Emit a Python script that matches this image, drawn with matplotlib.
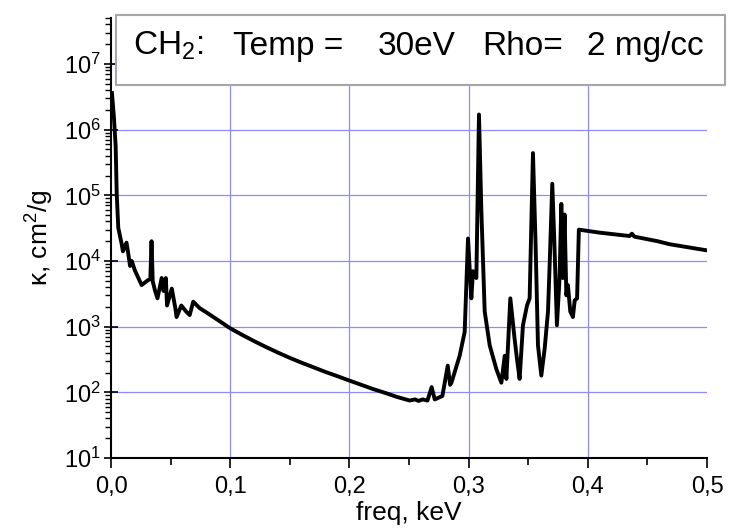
import matplotlib
matplotlib.use("Agg")
import matplotlib.pyplot as plt
from matplotlib.patches import Rectangle
import numpy as np

plt.rcParams['font.family'] = ['Liberation Sans', 'DejaVu Sans']
plt.rcParams['mathtext.fontset'] = 'custom'
plt.rcParams['mathtext.rm'] = 'Liberation Sans'
plt.rcParams['mathtext.it'] = 'Liberation Sans:italic'

# data (freq in keV, opacity in cm^2/g)
freq = [0.0008, 0.0025, 0.0039, 0.0048, 0.0061, 0.009, 0.010, 0.013, 0.0142, 0.016,
        0.0174, 0.020, 0.0257, 0.031, 0.033, 0.034, 0.035, 0.037, 0.039, 0.0425,
        0.044, 0.046, 0.047, 0.051, 0.054, 0.055, 0.059, 0.063, 0.066, 0.069,
        0.0746, 0.08, 0.09, 0.10, 0.11, 0.12, 0.13, 0.14, 0.15, 0.16,
        0.17, 0.18, 0.19, 0.20, 0.21, 0.22, 0.23, 0.24, 0.2506,
        0.255, 0.258, 0.2615, 0.2655, 0.269, 0.2716, 0.278, 0.2825, 0.2845, 0.2856,
        0.2925, 0.2967, 0.2995, 0.3023, 0.3037, 0.3065, 0.3087, 0.3107, 0.3135, 0.3177,
        0.3233, 0.3275, 0.3303, 0.3317, 0.335, 0.3386, 0.3406, 0.3428, 0.3456, 0.349,
        0.3512, 0.354, 0.3562, 0.3582, 0.361, 0.3638, 0.3666, 0.368, 0.3702, 0.372,
        0.3741, 0.3763, 0.3778, 0.3791, 0.3805, 0.382, 0.3833, 0.3853, 0.3875, 0.389,
        0.391, 0.3925, 0.41, 0.435, 0.437, 0.439, 0.4585, 0.4686, 0.50]
kappa = [3.6e6, 1.5e6, 5.6e5, 1.05e5, 3.2e4, 1.8e4, 1.4e4, 1.9e4, 1.4e4, 8.4e3,
         1.0e4, 7.2e3, 4.3e3, 5.1e3, 5.3e3, 2.0e4, 4.9e3, 3.5e3, 2.7e3, 5.5e3,
         3.5e3, 5.5e3, 2.1e3, 3.8e3, 1.9e3, 1.4e3, 2.1e3, 1.7e3, 1.5e3, 2.4e3,
         1.9e3, 1650, 1250, 944, 750, 603, 490, 403, 335, 282,
         240, 204, 176, 151, 130, 112, 98, 85, 75,
         78, 74, 78, 75, 120, 78, 88, 255, 130, 140,
         360, 830, 2.2e4, 2.7e3, 7.0e3, 5.5e3, 1.7e6, 5.9e4, 1.7e3, 520,
         225, 140, 360, 160, 2.7e3, 650, 320, 160, 1050, 2.1e3,
         2.7e3, 4.4e5, 1.8e4, 520, 180, 460, 1.7e3, 8.8e3, 1.5e5, 1.8e4,
         1.05e3, 5.5e3, 7.4e4, 5.5e3, 5.1e4, 3.0e3, 4.3e3, 1.7e3, 1.4e3, 2.5e3,
         2.7e3, 3.0e4, 2.7e4, 2.4e4, 2.6e4, 2.35e4, 2.0e4, 1.8e4, 1.45e4]

xticks = [0.0, 0.1, 0.2, 0.3, 0.4, 0.5]
xticklabels = ['0,0', '0,1', '0,2', '0,3', '0,4', '0,5']
yexps = [1, 2, 3, 4, 5, 6, 7]
title_parts = [r'CH$_2$:', 'Temp =', '30eV', 'Rho=', '2 mg/cc']
title_x_px = [133, 233, 378, 482, 587]

fig = plt.figure(figsize=(7.35, 5.28), dpi=100)
ax = fig.add_axes([111/735, 1 - 458/528, (707 - 111)/735, (458 - 18)/528])
ax.set_yscale('log')
ax.set_xlim(0, 0.5)
ax.set_ylim(10, 10**7.70)

gridc = (0.55, 0.55, 1.0)
for xv in xticks[1:-1]:
    ax.axvline(xv, color=gridc, lw=0.9, zorder=0)
for e in yexps[1:]:
    ax.axhline(10.0**e, color=gridc, lw=0.9, zorder=0)

ax.plot(freq, kappa, color='black', lw=2.8, zorder=3, solid_joinstyle='round')

ax.set_xticks(xticks)
ax.set_xticklabels(xticklabels)
ax.set_xticks([0.05, 0.15, 0.25, 0.35, 0.45], minor=True)
ax.set_yticks([10.0**e for e in yexps])
ax.set_yticklabels([r'$10^{%d}$' % e for e in yexps])
ax.tick_params(axis='x', which='major', direction='out', length=7, width=1.2, labelsize=17, pad=6)
ax.tick_params(axis='x', which='minor', direction='out', length=5, width=1.2)
ax.tick_params(axis='y', which='major', direction='inout', length=10, width=1.2, labelsize=17, pad=2)
ax.tick_params(axis='y', which='minor', direction='out', length=4, width=1.0)
for s in ['top', 'right']:
    ax.spines[s].set_visible(False)
for s in ['left', 'bottom']:
    ax.spines[s].set_linewidth(1.5)

ax.set_xlabel('freq, keV', fontsize=19, labelpad=2)
ax.set_ylabel(r'κ, cm$^2$/g', fontsize=19, labelpad=6)

rect = Rectangle((116/735, 1 - 85/528), (725 - 116)/735, (85 - 15)/528, transform=fig.transFigure,
                 facecolor='white', edgecolor=(0.65, 0.65, 0.65), lw=1.5, zorder=10)
fig.add_artist(rect)
for part, xp in zip(title_parts, title_x_px):
    fig.text(xp/735, 1 - 55/528, part, fontsize=24, va='baseline', ha='left', zorder=11)

fig.savefig('out.png', dpi=100)
